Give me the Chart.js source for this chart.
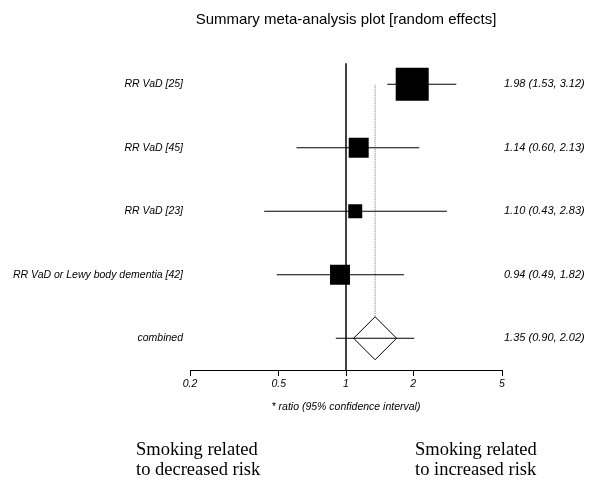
<!DOCTYPE html>
<html lang="en">
<head>
  <meta charset="utf-8" />
  <title>Summary meta-analysis plot</title>
  <script src="https://cdn.jsdelivr.net/npm/chart.js@4.4.1/dist/chart.umd.min.js"></script>
  <style>
    html, body { margin: 0; padding: 0; background: #fff; }
    #wrap { width: 600px; height: 495px; }
  </style>
</head>
<body>
  <div id="wrap"><canvas id="forest" width="600" height="495"></canvas></div>
  <script>
    // studies, top to bottom
    const studies = ['RR VaD [25]', 'RR VaD [45]', 'RR VaD [23]', 'RR VaD or Lewy body dementia [42]', 'combined'];
    const estimate = [1.98, 1.14, 1.10, 0.94, 1.35];
    const lower = [1.53, 0.60, 0.43, 0.49, 0.90];
    const upper = [3.12, 2.13, 2.83, 1.82, 2.02];
    const xTicks = [0.2, 0.5, 1, 2, 5];

    // box sizes in px (side), last row is the diamond
    const boxSide = [33, 20, 14, 20];
    const diamondHalf = 21.5;

    const nRows = studies.length;
    const rowY = studies.map((s, i) => nRows - i);
    const ciText = studies.map((s, i) =>
      estimate[i].toFixed(2) + ' (' + lower[i].toFixed(2) + ', ' + upper[i].toFixed(2) + ')');
    const labelAt = (arr) => (v) => {
      const i = nRows - v;
      return arr[i] !== undefined ? arr[i] : '';
    };
    const combined = nRows - 1;

    const italic = (size) => ({ family: '"Liberation Sans", Arial, sans-serif', size: size, style: 'italic' });

    // the whiskers, one line per study
    const ciLines = studies.map((s, i) => ({
      data: [{ x: lower[i], y: rowY[i] }, { x: upper[i], y: rowY[i] }],
      showLine: true,
      pointRadius: 0,
      borderColor: '#000',
      borderWidth: 1
    }));

    const riskNotes = {
      id: 'riskNotes',
      afterDraw(chart) {
        const ctx = chart.ctx;
        ctx.save();
        ctx.fillStyle = '#000';
        ctx.font = '18.5px "Liberation Serif", "Times New Roman", serif';
        ctx.textBaseline = 'middle';
        ctx.textAlign = 'left';
        ctx.fillText('Smoking related', 136, 450);
        ctx.fillText('to decreased risk', 136, 470);
        ctx.fillText('Smoking related', 415, 450);
        ctx.fillText('to increased risk', 415, 470);
        ctx.restore();
      }
    };

    const ctx = document.getElementById('forest').getContext('2d');
    const forest = new Chart(ctx, {
      type: 'scatter',
      data: {
        datasets: [
          {
            // study boxes
            data: studies.slice(0, combined).map((s, i) => ({ x: estimate[i], y: rowY[i] })),
            pointStyle: 'rect',
            pointRadius: boxSide.map(s => s / Math.SQRT2),
            backgroundColor: '#000',
            borderColor: '#000',
            borderWidth: 0
          },
          ...ciLines,
          {
            // pooled estimate
            data: [{ x: estimate[combined], y: rowY[combined] }],
            pointStyle: 'rectRot',
            pointRadius: diamondHalf,
            backgroundColor: '#fff',
            borderColor: '#000',
            borderWidth: 1
          },
          {
            // dotted line at the pooled estimate
            data: [{ x: estimate[combined], y: rowY[combined] }, { x: estimate[combined], y: rowY[0] }],
            showLine: true,
            pointRadius: 0,
            borderColor: '#777',
            borderWidth: 1,
            borderDash: [1, 1]
          },
          {
            // no effect line
            data: [{ x: 1, y: 0.5 }, { x: 1, y: nRows + 0.33 }],
            showLine: true,
            pointRadius: 0,
            borderColor: '#000',
            borderWidth: 1.5
          }
        ]
      },
      options: {
        responsive: false,
        animation: false,
        events: [],
        clip: false,
        layout: { padding: { bottom: 78 } },
        plugins: {
          legend: { display: false },
          tooltip: { enabled: false },
          title: {
            display: true,
            fullSize: false,
            text: 'Summary meta-analysis plot [random effects]',
            color: '#000',
            font: { family: '"Liberation Sans", Arial, sans-serif', size: 15, weight: 'normal' },
            padding: { top: 11, bottom: 23.5 }
          }
        },
        scales: {
          x: {
            type: 'logarithmic',
            min: 0.2,
            max: 5,
            afterBuildTicks: (scale) => { scale.ticks = xTicks.map(v => ({ value: v })); },
            afterFit: (scale) => { scale.height = 47; },
            ticks: {
              color: '#000',
              font: italic(10.5),
              padding: 2,
              autoSkip: false,
              maxRotation: 0,
              callback: (v) => String(v)
            },
            grid: { drawOnChartArea: false, drawTicks: true, tickLength: 6, color: '#000' },
            border: { color: '#000', width: 1 },
            title: {
              display: true,
              text: '* ratio (95% confidence interval)',
              color: '#000',
              font: italic(10.5),
              padding: { top: 8 }
            }
          },
          y: {
            type: 'linear',
            min: 0.5,
            max: nRows + 0.5,
            afterBuildTicks: (scale) => { scale.ticks = rowY.map(v => ({ value: v })); },
            afterFit: (scale) => { scale.width = 190; },
            ticks: { color: '#000', font: italic(10.5), padding: 7, callback: labelAt(studies) },
            grid: { display: false, drawTicks: false, tickLength: 0 },
            border: { display: false }
          },
          y2: {
            type: 'linear',
            position: 'right',
            min: 0.5,
            max: nRows + 0.5,
            afterBuildTicks: (scale) => { scale.ticks = rowY.map(v => ({ value: v })); },
            afterFit: (scale) => { scale.width = 98; },
            ticks: { color: '#000', font: italic(11), padding: 2, callback: labelAt(ciText) },
            grid: { display: false, drawTicks: false, tickLength: 0 },
            border: { display: false }
          }
        }
      },
      plugins: [riskNotes]
    });
  </script>
</body>
</html>
